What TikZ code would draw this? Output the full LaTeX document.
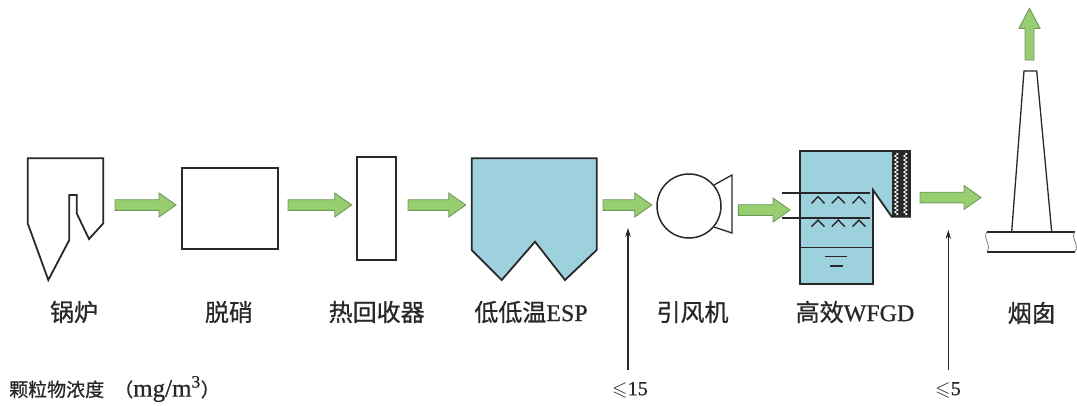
\documentclass[tikz,border=0pt]{standalone}
\usepackage{fontspec}
\usepackage{amssymb}
\setmainfont{Liberation Serif}[FakeBold=0.8]
\newfontfamily\cjk{Noto Sans CJK SC}[FakeBold=0.8]
\usetikzlibrary{arrows.meta,calc,decorations.pathmorphing}

\definecolor{ink}{RGB}{40,40,40}
\definecolor{water}{RGB}{157,209,221}
\definecolor{flowfill}{RGB}{150,206,112}
\definecolor{flowline}{RGB}{110,155,90}

% horizontal block arrow between two named coordinates
\newcommand{\flowright}[2]{%
  \path[flow] let \p1=(#1), \p2=(#2) in
    (\x1,\y1+5.3pt) -- (\x2-17pt,\y1+5.3pt) -- (\x2-17pt,\y1+12pt) -- (\x2,\y1)
    -- (\x2-17pt,\y1-12pt) -- (\x2-17pt,\y1-5.3pt) -- (\x1,\y1-5.3pt) -- cycle;}
% vertical block arrow pointing up
\newcommand{\flowup}[2]{%
  \path[flow] let \p1=(#1), \p2=(#2) in
    (\x1-4.5pt,\y1) -- (\x1-4.5pt,\y2-20pt) -- (\x1-10.5pt,\y2-20pt) -- (\x1,\y2)
    -- (\x1+10.5pt,\y2-20pt) -- (\x1+4.5pt,\y2-20pt) -- (\x1+4.5pt,\y1) -- cycle;}

\begin{document}
\begin{tikzpicture}[x=1pt,y=-1pt,
  outline/.style={draw=ink, line width=1.8pt, line join=miter},
  thin/.style={draw=ink, line width=1.3pt},
  box/.style={outline, inner sep=0pt},
  flow/.style={fill=flowfill, draw=flowline, line width=0.9pt, line join=miter},
  meas/.style={draw=ink, line width=1.1pt, -{Stealth[length=9pt,width=5.5pt]}},
  lbl/.style={font=\fontsize{24}{28}\selectfont, inner sep=0pt, text=ink},
  limit/.style={font=\fontsize{20}{24}\selectfont, inner sep=0pt, text=ink}]
\useasboundingbox (0,0) rectangle (1077,405);

% boiler
\draw[outline] (27.7,158.3) -- (103.3,158.3) -- (103.3,223.3) -- (89,239)
  -- (76.7,213.3) -- (76.7,195) -- (69.3,195) -- (69.3,240) -- (48.3,280)
  -- (27.7,223.3) -- cycle;

% denitration
\node[box, minimum width=96.6pt, minimum height=81pt] (denox) at (230,208.8) {};

% heat recovery
\node[box, minimum width=39pt, minimum height=102.7pt] (heat) at (376.2,208.7) {};

% low-low temperature ESP
\draw[outline, fill=water] (471.7,158.3) -- (596.7,158.3) -- (596.7,250) -- (565,280)
  -- (535,241.7) -- (501.7,280) -- (471.7,250) -- cycle;

% induced draft fan
\node[draw=ink, line width=1.5pt, circle, minimum size=64pt, inner sep=0pt] (fan) at (689,206) {};
\draw[thin] (fan.40) -- (732,175) -- (732,233) -- (fan.-40);

% WFGD absorber
\draw[outline, fill=water] (800,151) -- (910,151) -- (910,216.7) -- (891.7,216.7)
  -- (873,190) -- (873,284) -- (800,284) -- cycle;
\fill[ink] (891.7,151) rectangle (910,216.7);
\foreach \zx in {896.3,905.3}
  \draw[white, line width=0.8pt, decorate,
        decoration={zigzag, segment length=4pt, amplitude=1.7pt}] (\zx,153) -- (\zx,215);
\draw[ink, line width=1.5pt] (782,193) -- (870,193);
\draw[ink, line width=1.5pt] (782,218) -- (870,218);
\draw[ink, line width=1.2pt] (800,247.3) -- (873,247.3);
\foreach \cx in {818,838.3,859} {
  \draw[ink, line width=1.4pt] (\cx-6.5,203.3) -- (\cx,196.7) -- (\cx+6.5,203.3);
  \draw[ink, line width=1.4pt] (\cx-6.5,226.7) -- (\cx,220) -- (\cx+6.5,226.7);
}
\draw[ink, line width=1.2pt] (825,256.7) -- (846.7,256.7);
\draw[ink, line width=1.2pt] (830,266) -- (843.3,266);

% stack
\draw[thin, line join=miter] (1011.7,231.7) -- (1024,71) -- (1036.7,71) -- (1051.7,231.7);
\draw[ink, line width=1.8pt] (987,231.7) -- (1075,231.7);
\draw[ink, line width=1.8pt] (987,251.7) -- (1075,251.7);
\draw[ink!60, line width=0.8pt] (987,231.7) .. controls (982,238) and (992,245) .. (987,251.7);
\draw[ink!60, line width=0.8pt] (1075,231.7) .. controls (1070,238) and (1080,245) .. (1075,251.7);

% flue gas flow
\coordinate (f1a) at (115,205);   \coordinate (f1b) at (176,205);
\coordinate (f2a) at (288,205);   \coordinate (f2b) at (351.7,205);
\coordinate (f3a) at (408,205);   \coordinate (f3b) at (465.7,205);
\coordinate (f4a) at (603,205);   \coordinate (f4b) at (651.7,205);
\coordinate (f5a) at (738.3,210); \coordinate (f5b) at (790,210);
\coordinate (f6a) at (920,197.5); \coordinate (f6b) at (981,197.5);
\coordinate (f7a) at (1029.5,60); \coordinate (f7b) at (1029.5,8.3);
\flowright{f1a}{f1b}
\flowright{f2a}{f2b}
\flowright{f3a}{f3b}
\flowright{f4a}{f4b}
\flowright{f5a}{f5b}
\flowright{f6a}{f6b}
\flowup{f7a}{f7b}

% equipment labels
\node[lbl] (tboiler) at (74,312)   {\cjk 锅炉};
\node[lbl] (tdenox)  at (229,312)  {\cjk 脱硝};
\node[lbl] (theat)   at (376.7,312) {\cjk 热回收器};
\node[lbl] (tesp)    at (531,312)  {{\cjk 低低温}ESP};
\node[lbl] (tfan)    at (692.5,312) {\cjk 引风机};
\node[lbl] (twfgd)   at (855,312)  {{\cjk 高效}WFGD};
\node[lbl] (tstack)  at (1031.7,313) {\cjk 烟囱};

% particulate concentration
\node[anchor=west, inner sep=0pt, text=ink] (tconc) at (9,389)
  {\fontsize{19}{23}\selectfont\cjk 颗粒物浓度\hspace{10pt}（\fontsize{25}{28}\selectfont\rmfamily mg/m\textsuperscript{3}\fontsize{19}{23}\selectfont\cjk ）};
\node[limit] (lim1) at (630,390) {$\leqslant$15};
\node[limit] (lim2) at (948,390) {$\leqslant$5};
\coordinate (m1) at (628,228);
\coordinate (m2) at (948.3,230);
\draw[meas] ([yshift=12pt]lim1.north -| m1) -- (m1);
\draw[meas] ([yshift=12pt]lim2.north -| m2) -- (m2);
\end{tikzpicture}
\end{document}
